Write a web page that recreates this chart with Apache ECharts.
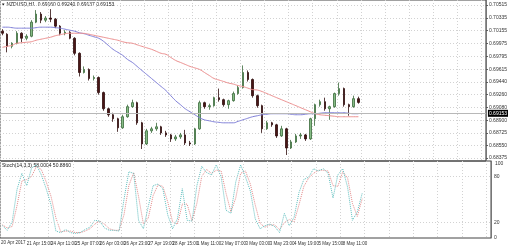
<!DOCTYPE html>
<html><head><meta charset="utf-8">
<script src="https://cdn.jsdelivr.net/npm/echarts@6/dist/echarts.min.js"></script>
<style>html,body{margin:0;padding:0;background:#fff}#c{width:510px;height:247px}</style>
</head><body><div id="c"></div>
<script>
// 4-hour bars, NZDUSD
const tickLabels = ["20 Apr 2017","21 Apr 15:00","24 Apr 11:00","25 Apr 07:00","26 Apr 03:00","26 Apr 23:00","27 Apr 19:00","28 Apr 15:00","1 May 11:00","2 May 07:00","3 May 03:00","3 May 23:00","4 May 19:00","5 May 15:00","8 May 11:00"];
const priceLabels = [0.70515,0.70335,0.70155,0.69975,0.69795,0.69615,0.69440,0.69260,0.69080,0.68900,0.68725,0.68550,0.68375];
const stochLabels = [0,20,80,100];
const lastPrice = 0.69153;
// [open, close, low, high]
const candles = [
[0.70149,0.70120,0.70092,0.70177],[0.70106,0.69937,0.69853,0.70120],[0.69937,0.69980,0.69909,0.69994],[0.69980,0.70120,0.69965,0.70149],
[0.70120,0.70050,0.69994,0.70134],[0.70050,0.70078,0.70022,0.70106],[0.70078,0.70275,0.70064,0.70303],[0.70275,0.70388,0.70261,0.70444],
[0.70388,0.70303,0.70261,0.70416],[0.70303,0.70332,0.70275,0.70360],[0.70332,0.70317,0.70275,0.70458],[0.70317,0.70219,0.70191,0.70332],
[0.70219,0.70120,0.70092,0.70233],[0.70120,0.70134,0.70092,0.70163],[0.70134,0.70050,0.70036,0.70149],[0.70050,0.69839,0.69811,0.70064],
[0.69839,0.69571,0.69515,0.69853],[0.69571,0.69613,0.69557,0.69656],[0.69613,0.69487,0.69459,0.69628],[0.69487,0.69501,0.69459,0.69529],
[0.69501,0.69290,0.69261,0.69515],[0.69290,0.69064,0.69036,0.69304],[0.69064,0.68980,0.68952,0.69078],[0.68980,0.68924,0.68881,0.69008],
[0.68924,0.68797,0.68741,0.68938],[0.68797,0.68952,0.68783,0.68980],[0.68952,0.69093,0.68938,0.69121],[0.69093,0.69149,0.69078,0.69191],
[0.69149,0.68867,0.68839,0.69163],[0.68867,0.68572,0.68501,0.68881],[0.68572,0.68755,0.68557,0.68783],[0.68755,0.68783,0.68726,0.68811],
[0.68783,0.68811,0.68755,0.68867],[0.68811,0.68726,0.68698,0.68825],[0.68726,0.68698,0.68670,0.68755],[0.68698,0.68642,0.68600,0.68712],
[0.68642,0.68670,0.68614,0.68698],[0.68670,0.68698,0.68642,0.68726],[0.68698,0.68586,0.68557,0.68769],[0.68586,0.68572,0.68543,0.68614],
[0.68572,0.68783,0.68557,0.68797],[0.68783,0.69149,0.68769,0.69177],[0.69149,0.69093,0.69064,0.69163],[0.69093,0.69107,0.69050,0.69135],
[0.69107,0.69219,0.69093,0.69233],[0.69219,0.69191,0.69163,0.69346],[0.69191,0.69121,0.69093,0.69205],[0.69121,0.69177,0.69064,0.69191],
[0.69177,0.69276,0.69163,0.69304],[0.69276,0.69360,0.69261,0.69388],[0.69360,0.69571,0.69346,0.69670],[0.69571,0.69473,0.69445,0.69599],
[0.69473,0.69247,0.69219,0.69487],[0.69247,0.69107,0.69078,0.69261],[0.69107,0.68783,0.68726,0.69121],[0.68783,0.68867,0.68769,0.68895],
[0.68867,0.68839,0.68811,0.68881],[0.68839,0.68684,0.68656,0.68853],[0.68684,0.68783,0.68670,0.68825],[0.68783,0.68515,0.68417,0.68797],
[0.68515,0.68600,0.68501,0.68628],[0.68600,0.68684,0.68586,0.68712],[0.68684,0.68698,0.68642,0.68726],[0.68698,0.68642,0.68614,0.68712],
[0.68642,0.68924,0.68628,0.68938],[0.68924,0.69121,0.68825,0.69135],[0.69121,0.69163,0.69093,0.69191],[0.69163,0.69064,0.69036,0.69219],
[0.69064,0.69093,0.68909,0.69107],[0.69093,0.69276,0.69078,0.69290],[0.69276,0.69346,0.69247,0.69430],[0.69346,0.69121,0.69093,0.69360],
[0.69121,0.69093,0.68966,0.69135],[0.69093,0.69205,0.69078,0.69247],[0.69205,0.69153,0.69135,0.69233]
];
const maBlue = [0.70205,0.70205,0.70198,0.70191,0.70191,0.70191,0.70191,0.70198,0.70205,0.70205,0.70205,0.70198,0.70191,0.70177,0.70163,0.70149,0.70127,0.70113,0.70092,0.70071,0.70050,0.70008,0.69951,0.69895,0.69853,0.69811,0.69754,0.69712,0.69656,0.69599,0.69543,0.69487,0.69430,0.69374,0.69318,0.69247,0.69177,0.69121,0.69064,0.69022,0.68980,0.68938,0.68909,0.68895,0.68881,0.68874,0.68867,0.68867,0.68867,0.68888,0.68909,0.68931,0.68952,0.68966,0.68980,0.68987,0.68994,0.68994,0.68994,0.68994,0.68987,0.68980,0.68980,0.68987,0.68994,0.68994,0.69001,0.69008,0.69008,0.69008,0.69008,0.69008,0.69001,0.68994,0.68994];
const maRed = [0.69923,0.69937,0.69951,0.69980,0.69987,0.69994,0.70001,0.70022,0.70036,0.70050,0.70064,0.70085,0.70099,0.70113,0.70120,0.70120,0.70120,0.70118,0.70106,0.70092,0.70078,0.70064,0.70050,0.70036,0.70022,0.70001,0.69987,0.69980,0.69958,0.69937,0.69916,0.69895,0.69867,0.69839,0.69825,0.69782,0.69740,0.69712,0.69684,0.69656,0.69635,0.69613,0.69571,0.69529,0.69487,0.69466,0.69445,0.69423,0.69409,0.69388,0.69374,0.69353,0.69332,0.69325,0.69304,0.69276,0.69247,0.69219,0.69191,0.69163,0.69135,0.69107,0.69078,0.69050,0.69022,0.68994,0.68980,0.68973,0.68966,0.68959,0.68952,0.68952,0.68952,0.68952,0.68952];
const stochMain = [16,10,21,63,84,68,91,95,82,64,43,9,7,11,7,6,7,11,14,23,22,13,10,10,9,50,86,84,23,12,41,68,70,64,30,12,25,64,23,22,68,93,85,82,95,79,36,32,73,95,79,61,25,12,16,18,15,7,32,16,27,59,76,79,90,87,90,84,52,82,90,66,23,34,58];
const stochSignal = [17,13,15,42,74,76,80,93,89,73,54,26,8,9,9,7,7,9,12,18,22,18,12,10,10,30,68,85,54,18,26,55,69,67,47,21,18,44,44,22,45,80,89,84,88,87,58,34,52,84,87,70,43,19,14,17,17,11,20,24,21,43,67,78,84,88,88,87,68,67,86,78,45,28,51];
const totalBars = 101;

const cats = [];
for (let i = 0; i < totalBars; i++) cats.push(String(i));
const fmtLabel = (v, idx) => (idx % 5 === 0 && tickLabels[idx / 5]) ? tickLabels[idx / 5] : '';
const gridLine = {show: true, interval: 4, lineStyle: {color: '#d2d2d2', type: [1, 2], width: 1}};
const FONT = 'Liberation Sans';

const chart = echarts.init(document.getElementById('c'), null, {renderer: 'canvas'});
chart.setOption({
  animation: false,
  backgroundColor: '#fff',
  grid: [
    {left: 0, right: 19, top: 0, height: 161, show: true, borderColor: '#444', borderWidth: 1, backgroundColor: 'transparent'},
    {left: 0, right: 19, top: 161, height: 77, show: true, borderColor: '#444', borderWidth: 1, backgroundColor: 'transparent'}
  ],
  xAxis: [
    {type: 'category', gridIndex: 0, data: cats, boundaryGap: true,
     axisLine: {show: false}, axisTick: {show: false, alignWithLabel: true, interval: 4},
     axisLabel: {show: false, interval: 4}, splitLine: gridLine},
    {type: 'category', gridIndex: 1, data: cats, boundaryGap: true,
     axisLine: {show: false}, axisTick: {show: false, alignWithLabel: true, interval: 4},
     axisLabel: {show: true, interval: 4, showMinLabel: false, hideOverlap: false, formatter: fmtLabel, fontSize: 4.5, color: '#333', align: 'left', margin: 3, fontFamily: FONT},
     splitLine: gridLine}
  ],
  yAxis: [
    {type: 'value', gridIndex: 0, position: 'right', min: 0.68333, max: 0.70585, scale: true,
     axisLine: {show: true, lineStyle: {color: '#777'}},
     axisTick: {show: true, length: 2, customValues: priceLabels, lineStyle: {color: '#555'}},
     axisLabel: {show: true, customValues: priceLabels, showMinLabel: true, showMaxLabel: true, hideOverlap: false, formatter: v => v.toFixed(5), fontSize: 5, color: '#333', margin: 3, fontFamily: FONT},
     splitLine: {show: true, lineStyle: {color: '#d2d2d2', type: [1, 2]}}},
    {type: 'value', gridIndex: 1, position: 'right', min: 0, max: 100, interval: 20,
     axisLine: {show: true, lineStyle: {color: '#777'}},
     axisTick: {show: false},
     axisLabel: {show: true, showMinLabel: true, showMaxLabel: false, hideOverlap: false,
       formatter: v => (stochLabels.indexOf(v) >= 0 && v !== 100) ? String(v) : '',
       fontSize: 5, color: '#333', margin: 3, fontFamily: FONT},
     splitLine: {show: false}}
  ],
  graphic: [
    {type: 'text', left: 2, top: 2, style: {text: '\u25BE NZDUSD,H1  0.69160 0.69240 0.69137 0.69153', fontSize: 5, fill: '#222', fontFamily: FONT}},
    {type: 'text', left: 2, top: 163, style: {text: 'Stoch(14,3,3) 58.0004 50.8860', fontSize: 5, fill: '#222', fontFamily: FONT}},
    {type: 'text', left: 1, top: 240, style: {text: tickLabels[0], fontSize: 4.5, fill: '#333', fontFamily: FONT}},
    {type: 'text', left: 495, top: 161, style: {text: String(stochLabels[3]), fontSize: 5, fill: '#333', fontFamily: FONT}}
  ],
  series: [
    {type: 'candlestick', xAxisIndex: 0, yAxisIndex: 0, data: candles, barWidth: 2,
     itemStyle: {color: '#86bd86', color0: '#4a1616', borderColor: '#3a6a3a', borderColor0: '#2e0c0c', borderWidth: 0.8},
     markLine: {silent: true, symbol: 'none', animation: false,
       lineStyle: {color: '#b8b8b8', type: 'solid', width: 1},
       label: {position: 'end', formatter: lastPrice.toFixed(5), backgroundColor: '#000', color: '#fff', fontSize: 5, padding: [1, 1], distance: 2, fontFamily: FONT},
       data: [{yAxis: lastPrice}]}},
    {type: 'line', xAxisIndex: 0, yAxisIndex: 0, data: maBlue, showSymbol: false, smooth: true,
     lineStyle: {color: '#8080d8', width: 1}},
    {type: 'line', xAxisIndex: 0, yAxisIndex: 0, data: maRed, showSymbol: false, smooth: true,
     lineStyle: {color: '#ec9090', width: 1}},
    {type: 'line', xAxisIndex: 1, yAxisIndex: 1, data: stochSignal, showSymbol: false,
     lineStyle: {color: '#e48a8a', width: 1, type: 'dotted'}},
    {type: 'line', xAxisIndex: 1, yAxisIndex: 1, data: stochMain, showSymbol: false,
     lineStyle: {color: '#5fbfbf', width: 1, type: 'dotted'},
     markLine: {silent: true, symbol: 'none', label: {show: false},
       lineStyle: {color: '#d2d2d2', type: [1, 2], width: 1},
       data: [{yAxis: 20}, {yAxis: 80}]}}
  ]
});
</script></body></html>
